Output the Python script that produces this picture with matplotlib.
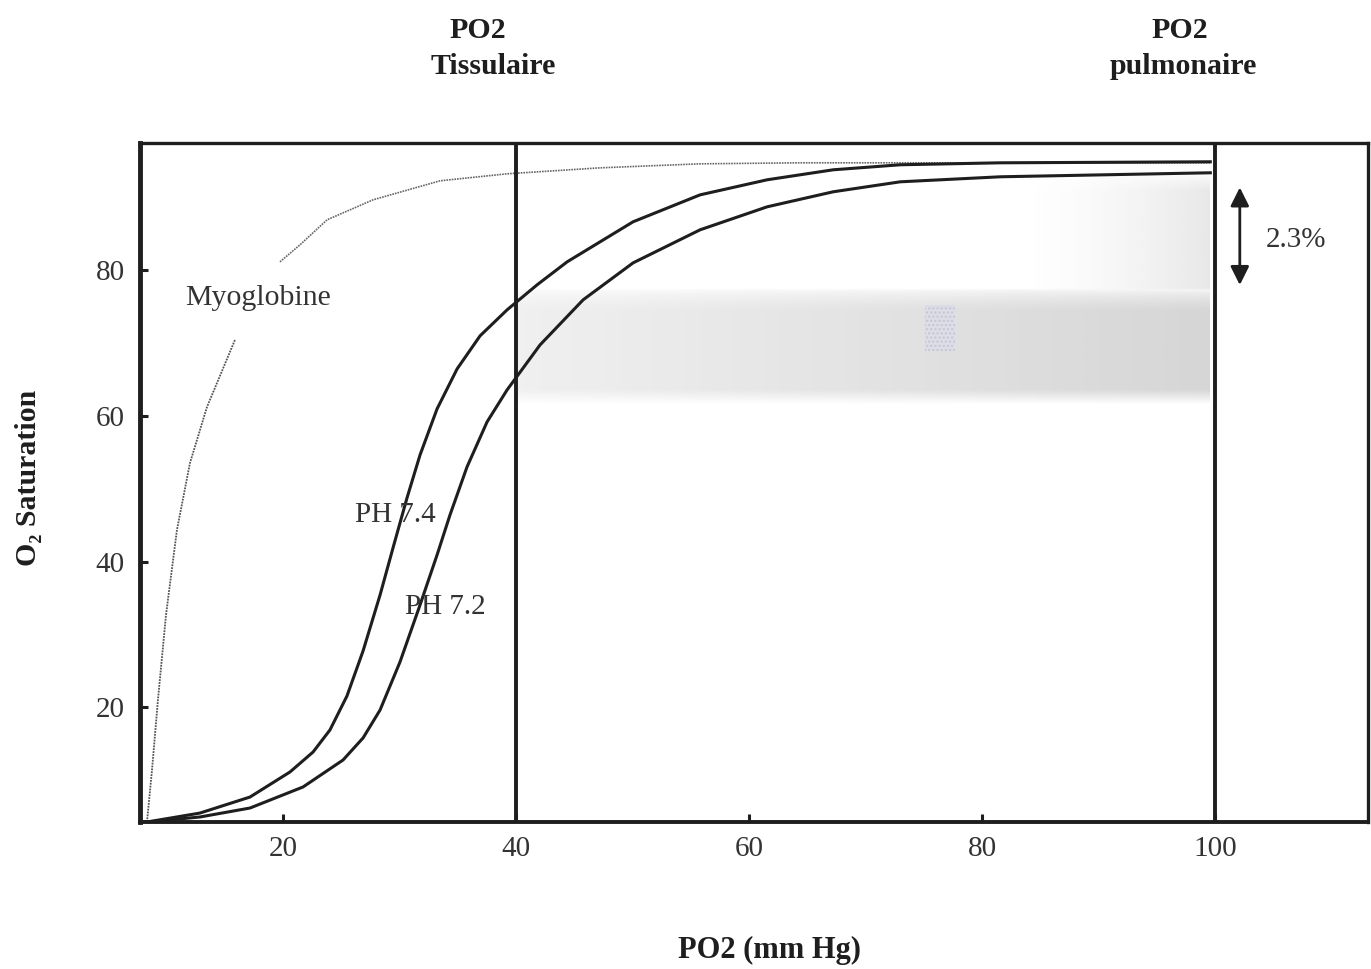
import numpy as np
import matplotlib
matplotlib.use("Agg")
import matplotlib.pyplot as plt
from matplotlib.patches import Rectangle

plt.rcParams['font.family'] = ['Liberation Serif', 'DejaVu Serif']

# courbes (PO2 en mm Hg, saturation en %)
po2_ph74 = [8.33, 12.88, 17.17, 20.60, 22.58, 24.03, 25.49, 26.87, 28.33, 29.44, 30.64, 31.76, 33.22,
            34.94, 36.91, 39.23, 41.80, 44.38, 50.04, 55.79, 61.55, 67.21, 72.96, 81.55, 99.57]
sat_ph74 = [4.26, 5.49, 7.69, 11.13, 13.87, 16.90, 21.57, 27.75, 35.44, 41.90, 48.76, 54.67, 60.99,
            66.48, 71.02, 74.59, 78.02, 81.18, 86.68, 90.38, 92.45, 93.82, 94.51, 94.78, 94.92]

po2_ph72 = [8.33, 12.88, 17.17, 21.72, 25.15, 26.87, 28.33, 30.04, 31.76, 33.22, 34.33, 35.79,
            37.51, 39.23, 42.06, 45.75, 50.04, 55.79, 61.55, 67.21, 72.96, 81.55, 99.57]
sat_ph72 = [4.26, 4.95, 6.18, 9.07, 12.77, 15.80, 19.64, 26.24, 34.07, 40.93, 46.43, 53.02,
            59.20, 63.60, 69.78, 75.96, 81.04, 85.58, 88.74, 90.80, 92.17, 92.86, 93.41]

# myoglobine : deux morceaux (trou autour de l'étiquette)
po2_myo_bas = [8.33, 8.76, 9.27, 9.96, 10.90, 12.02, 13.48, 15.88]
sat_myo_bas = [4.26, 11.40, 21.02, 32.69, 44.37, 53.57, 61.26, 70.47]
po2_myo_haut = [19.74, 21.46, 23.78, 27.73, 33.48, 39.23, 47.21, 55.79, 64.38, 99.57]
sat_myo_haut = [81.18, 83.52, 86.95, 89.70, 92.31, 93.27, 94.09, 94.64, 94.78, 94.78]

x_ticks = [20, 40, 60, 80, 100]
y_ticks = [20, 40, 60, 80]
po2_tissu = 40
po2_poumon = 100

ink = "#1e1e1e"
txt = "#333333"

fig = plt.figure(figsize=(13.71, 9.69), dpi=100)
ax = fig.add_axes([140/1371, 1 - 822/969, (1368 - 140)/1371, (822 - 143)/969])
ax.set_xlim(7.73, 113.1)
ax.set_ylim(4.26, 97.5)

# zone grisée entre les deux PO2
gx = np.linspace(40, 99.5, 240)
gy = np.linspace(61.5, 95, 160)
X, Y = np.meshgrid(gx, gy)
t = (X - 40) / 59.5
band = (Y <= 77.5) * (0.10 + 0.17 * t)
edge = np.clip((Y - 61.5) / 2.0, 0, 1) * np.clip((77.5 - Y) / 3.0, 0, 1) ** 0.5
band = band * edge
haut = (Y > 77.5) * 0.15 * np.clip((X - 83) / 16.5, 0, 1) ** 1.5 * np.clip((94 - Y) / 3, 0, 1)
alpha = np.clip(band + haut, 0, 1)
rgba = np.zeros(X.shape + (4,))
rgba[..., :3] = 0.4
rgba[..., 3] = alpha
ax.imshow(rgba, extent=(40, 99.5, 61.5, 95), origin="lower", aspect="auto",
          interpolation="bilinear", zorder=0)
ax.add_patch(Rectangle((75.1, 69.0), 2.6, 6.3, facecolor="#dcdde6", edgecolor="#c4c6d2",
                       hatch="....", lw=0, zorder=1))

ax.plot(po2_myo_bas, sat_myo_bas, color="#555555", lw=1.3, ls=(0, (1, 0.6)), zorder=2)
ax.plot(po2_myo_haut, sat_myo_haut, color="#666666", lw=1.2, ls=(0, (1, 0.6)), zorder=2)
ax.plot(po2_ph74, sat_ph74, color=ink, lw=2.2, zorder=3, solid_joinstyle="round")
ax.plot(po2_ph72, sat_ph72, color=ink, lw=2.2, zorder=3, solid_joinstyle="round")

ax.axvline(po2_tissu, color=ink, lw=2.8, zorder=4)
ax.axvline(po2_poumon, color=ink, lw=2.8, zorder=4)

for s in ax.spines.values():
    s.set_color(ink)
    s.set_linewidth(2.4)
ax.spines['left'].set_linewidth(3.5)
ax.spines['bottom'].set_linewidth(2.8)

ax.set_xticks(x_ticks)
ax.set_yticks(y_ticks)
ax.tick_params(direction="in", length=6, width=2.2, color=ink, labelcolor=txt, labelsize=21)
ax.tick_params(axis="x", pad=10)
ax.tick_params(axis="y", pad=11)

ax.text(11.6, 76.2, "Myoglobine", fontsize=21.5, color=txt, va="center", ha="left")
ax.text(26.2, 46.4, "PH 7.4", fontsize=21, color=txt, va="center", ha="left")
ax.text(30.5, 33.8, "PH 7.2", fontsize=21, color=txt, va="center", ha="left")
ax.text(104.3, 84.2, "2.3%", fontsize=21, color=txt, va="center", ha="left")

ax.annotate("", xy=(102.1, 78.0), xytext=(102.1, 91.4),
            arrowprops=dict(arrowstyle="<|-|>", color=ink, lw=2, mutation_scale=28,
                            shrinkA=0, shrinkB=0))

fs_titre = 21.5
fig.text(478/1371, 1 - 30/969, "PO2", fontsize=fs_titre, fontweight="bold", color=ink, ha="center", va="center")
fig.text(493/1371, 1 - 67/969, "Tissulaire", fontsize=fs_titre, fontweight="bold", color=ink, ha="center", va="center")
fig.text(1180/1371, 1 - 30/969, "PO2", fontsize=fs_titre, fontweight="bold", color=ink, ha="center", va="center")
fig.text(1183/1371, 1 - 67/969, "pulmonaire", fontsize=fs_titre, fontweight="bold", color=ink, ha="center", va="center")

fig.text(770/1371, 1 - 950/969, "PO2 (mm Hg)", fontsize=22, fontweight="bold", color=ink, ha="center", va="center")
fig.text(28/1371, 1 - 478/969, "O\u2082 Saturation", fontsize=21.5, fontweight="bold", color=ink,
         ha="center", va="center", rotation=90)

fig.savefig("out.png", dpi=100)
